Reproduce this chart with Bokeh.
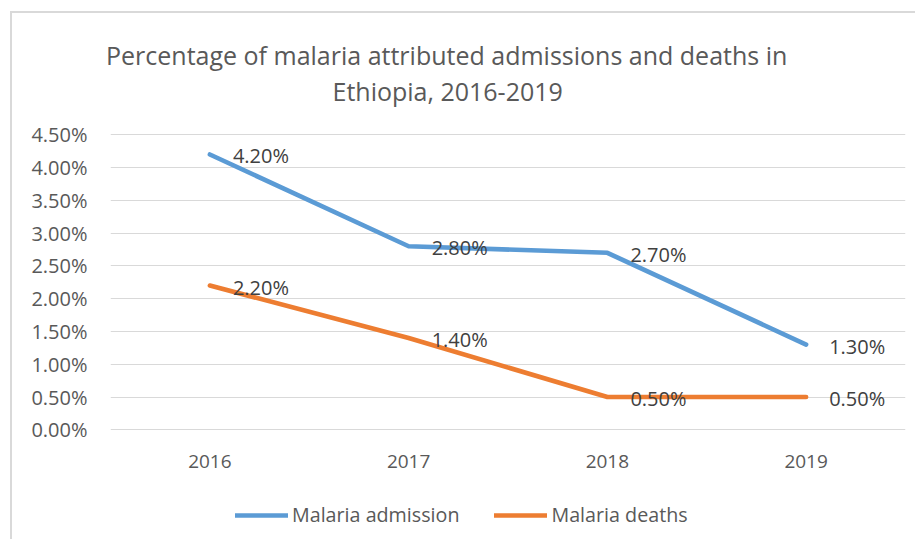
from bokeh.plotting import figure
from bokeh.models import (FactorRange, Range1d, FixedTicker, NumeralTickFormatter,
                          ColumnDataSource, LabelSet, Title, Legend, LegendItem)
from bokeh.core.properties import value
from bokeh.embed import file_html
from bokeh.resources import INLINE

# ---- data ----
years = ["2016", "2017", "2018", "2019"]
admission = [0.042, 0.028, 0.027, 0.013]
deaths = [0.022, 0.014, 0.005, 0.005]
admission_labels = ["4.20%", "2.80%", "2.70%", "1.30%"]
deaths_labels = ["2.20%", "1.40%", "0.50%", "0.50%"]
y_ticks = [0.0, 0.005, 0.01, 0.015, 0.02, 0.025, 0.03, 0.035, 0.04, 0.045]
title_lines = ["Percentage of malaria attributed admissions and deaths in",
               "Ethiopia, 2016-2019"]
series_names = ["Malaria admission", "Malaria deaths"]

BLUE = "#5B9BD5"
ORANGE = "#ED7D31"
GRAY = "#595959"
FONT = "Open Sans"

# ---- layout (figure pixels) ----
W, H = 905, 528
frame_left, frame_right = 98, 893
frame_top, frame_bottom = 119, 520      # frame extends down to hold category labels + legend
px_zero, px_top = 416.3, 121.3          # pixel rows of 0% and 4.5%
px_cat = 448                            # pixel row of category labels
s = 0.045 / (px_zero - px_top)          # data per pixel
ymin = -(frame_bottom - px_zero) * s
ymax = 0.045 + (px_top - frame_top) * s

p = figure(width=W, height=H, output_backend="svg", toolbar_location=None,
           x_range=FactorRange(*years), y_range=Range1d(ymin, ymax),
           min_border_left=frame_left, min_border_right=W - frame_right,
           min_border_top=frame_top, min_border_bottom=H - frame_bottom)
p.styles = {"margin-left": "10px", "margin-top": "11px",
            "border-left": "2px solid #D9D9D9", "border-top": "2px solid #D9D9D9"}
p.outline_line_color = None
p.background_fill_color = "white"
p.border_fill_color = "white"

# grid
p.xgrid.grid_line_color = None
p.ygrid.grid_line_color = "#D9D9D9"
p.ygrid.grid_line_width = 1.2

# y axis
p.yaxis.ticker = FixedTicker(ticks=y_ticks)
p.yaxis.formatter = NumeralTickFormatter(format="0.00%")
ya = p.yaxis[0]
ya.axis_line_color = None
ya.major_tick_line_color = None
ya.minor_tick_line_color = None
ya.major_tick_out = 0
ya.major_tick_in = 0
ya.minor_tick_out = 0
ya.major_label_text_color = GRAY
ya.major_label_text_font = FONT
ya.major_label_text_font_size = "20px"
ya.major_label_standoff = 23

# x axis: category labels drawn through the categorical scale, below the 0% line
p.xaxis.visible = False
cat_src = ColumnDataSource(dict(x=years, t=years))
p.add_layout(LabelSet(x="x", y=-(px_cat - px_zero) * s, text="t", source=cat_src,
                      text_align="center", text_baseline="middle",
                      text_color=GRAY, text_font=value(FONT), text_font_size="19px"))

# lines
r1 = p.line(years, admission, line_color=BLUE, line_width=4.6, line_cap="round", line_join="round")
r2 = p.line(years, deaths, line_color=ORANGE, line_width=4.6, line_cap="round", line_join="round")

# data labels
src1 = ColumnDataSource(dict(x=years, y=admission, t=admission_labels))
src2 = ColumnDataSource(dict(x=years, y=deaths, t=deaths_labels))
for src in (src1, src2):
    p.add_layout(LabelSet(x="x", y="y", text="t", source=src, x_offset=23, y_offset=-1.5,
                          text_baseline="middle", text_align="left",
                          text_color="#404040", text_font=value(FONT),
                          text_font_size="20px"))

# title: spacer + two lines stacked above the frame (first added = closest)
p.add_layout(Title(text=" ", text_font_size="2px", standoff=21), "above")
p.add_layout(Title(text=title_lines[1], align="left", offset=222, standoff=0,
                   text_color=GRAY, text_font=FONT, text_font_size="25px",
                   text_font_style="normal"), "above")
p.add_layout(Title(text=title_lines[0], align="left", offset=-4.5, standoff=0,
                   text_color=GRAY, text_font=FONT, text_font_size="25px",
                   text_font_style="normal"), "above")

# legend at the bottom
legend = Legend(items=[LegendItem(label=series_names[0], renderers=[r1]),
                       LegendItem(label=series_names[1], renderers=[r2])],
                orientation="horizontal", location=(125, 5),
                glyph_width=53, glyph_height=20, label_height=20, label_standoff=4,
                spacing=35, padding=0, margin=0,
                label_text_font=FONT, label_text_font_size="19.7px", label_text_color=GRAY,
                border_line_color=None, background_fill_alpha=0)
p.add_layout(legend, "center")

open("out.html", "w").write(file_html(p, INLINE))
